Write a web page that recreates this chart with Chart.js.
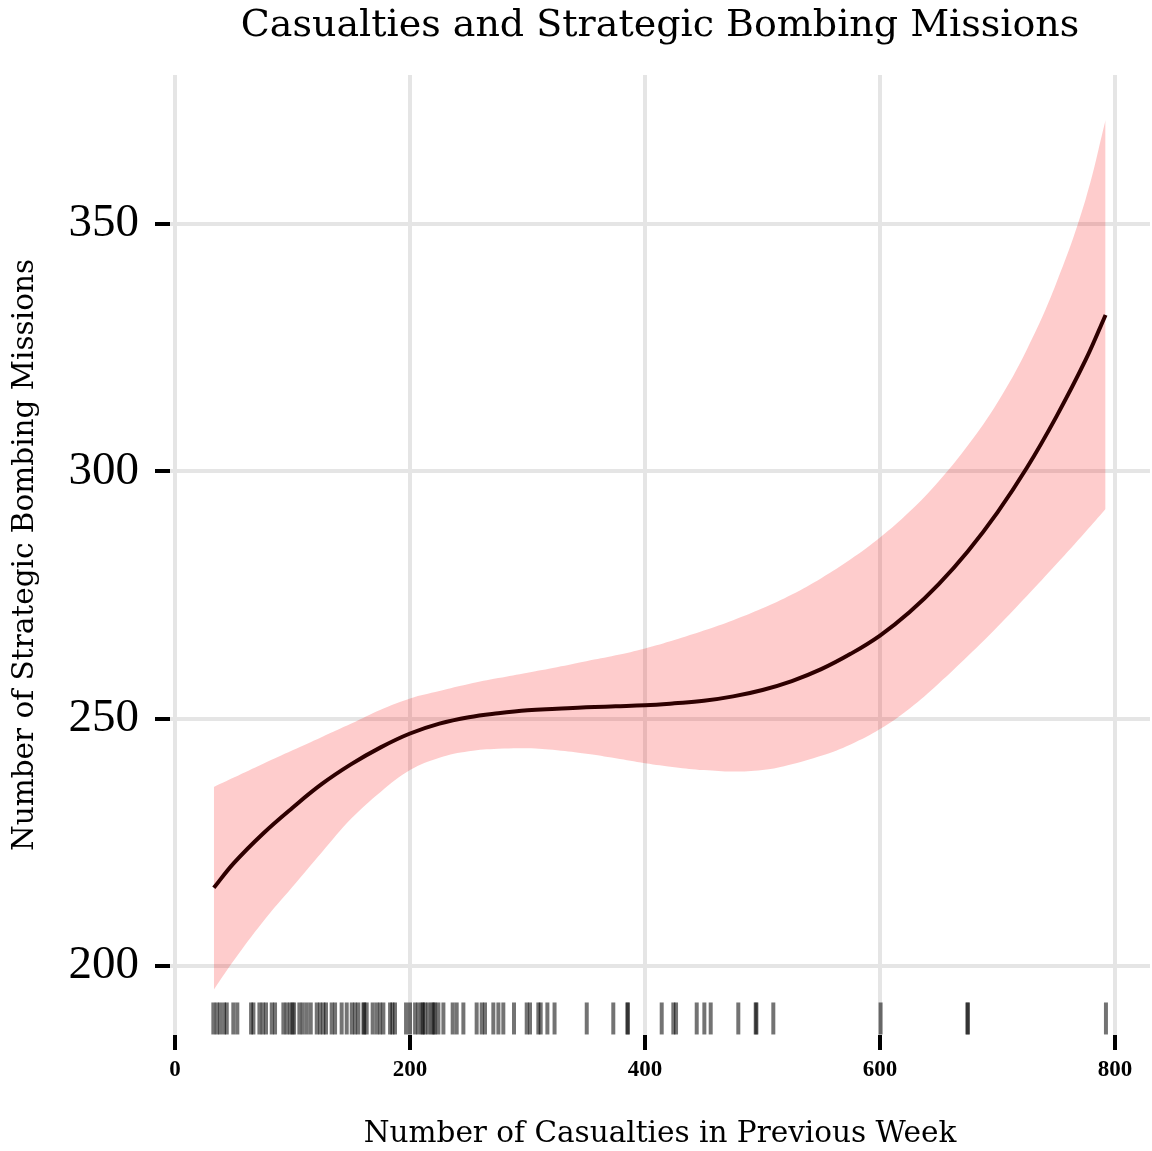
<!DOCTYPE html>
<html>
<head>
<meta charset="utf-8">
<script src="https://cdn.jsdelivr.net/npm/chart.js@4.4.1/dist/chart.umd.min.js"></script>
<style>
  html, body { margin: 0; padding: 0; background: #fff; overflow: hidden; }
  #wrap { width: 1152px; height: 1151px; position: relative; }
</style>
</head>
<body>
<div id="wrap"><canvas id="chart"></canvas></div>
<script>
const plotTitle = "Casualties and Strategic Bombing Missions";
const xTitle = "Number of Casualties in Previous Week";
const yTitle = "Number of Strategic Bombing Missions";

// fitted curve + confidence band
const casualties = [33, 50, 75, 100, 125, 150, 175, 200, 225, 250, 275, 300, 325, 350, 375, 400,
                    425, 450, 475, 500, 525, 550, 575, 600, 625, 650, 675, 700, 725, 750, 775, 792];
const fitted = [215.8, 220.8, 226.8, 232.0, 236.8, 240.8, 244.2, 247.0, 249.0, 250.3, 251.1, 251.7, 252.0, 252.3, 252.5, 252.7,
                253.1, 253.6, 254.5, 255.8, 257.6, 260.0, 263.1, 266.8, 271.5, 277.2, 283.9, 291.7, 300.7, 311.0, 322.5, 331.6];
const upperBand = [236.2, 238.1, 240.9, 243.6, 246.3, 249.0, 251.8, 254.1, 255.6, 257.0, 258.2, 259.3, 260.4, 261.6, 262.8, 264.2,
                   265.9, 267.8, 269.9, 272.3, 275.1, 278.4, 282.2, 286.6, 291.8, 298.0, 305.3, 313.9, 324.6, 338.0, 355.0, 371.0];
const lowerBand = [195.2, 201.1, 209.0, 216.0, 223.0, 229.8, 235.2, 239.6, 242.1, 243.4, 243.9, 244.0, 243.6, 242.9, 242.0, 241.0,
                   240.2, 239.6, 239.3, 239.6, 240.8, 242.5, 244.8, 247.9, 252.0, 257.1, 262.7, 268.6, 274.8, 281.2, 287.8, 292.4];

// rug of observed casualty counts
const rugCasualties = [
  32.6, 35.5, 38.3, 41.7, 44.0, 49.6, 53.0, 64.7, 66.7, 71.8, 74.6, 77.4, 82.3, 85.1,
  92.2, 95.0, 97.9, 100.0, 101.3, 105.8, 108.7, 112.1, 115.5, 120.6, 123.4, 126.2, 128.5,
  133.3, 136.2, 141.8, 146.1, 150.4, 153.2, 156.0, 160.3, 161.0, 163.1, 168.2, 171.6,
  174.5, 177.3, 183.0, 185.0, 187.2, 196.6, 200.0, 204.3, 207.1, 210.0, 211.0, 212.8,
  215.6, 218.4, 220.0, 221.3, 224.1, 228.4, 236.3, 239.7, 245.4, 256.7, 261.0, 263.8,
  270.9, 275.2, 279.4, 288.5, 299.3, 302.1, 309.2, 311.2, 316.9, 323.0, 350.4, 373.0,
  384.9, 385.5, 414.2, 424.1, 426.4, 444.0, 450.5, 455.9, 479.4, 494.2, 494.8, 509.2,
  600.5, 674.3, 674.9, 792.3
];
const rugLevel = 189.4;

const xTicks = [0, 200, 400, 600, 800];
const yTicks = [200, 250, 300, 350];

const pts = (xs, ys) => xs.map((x, i) => ({ x: x, y: ys[i] }));

const titlePlugin = {
  id: "plotTitle",
  afterDraw(chart) {
    const { ctx, chartArea } = chart;
    ctx.save();
    ctx.font = '38px "DejaVu Serif"';
    ctx.fillStyle = "#000";
    ctx.textAlign = "center";
    ctx.textBaseline = "alphabetic";
    ctx.fillText(plotTitle, (chartArea.left + chartArea.right) / 2, 36);
    ctx.restore();
  }
};

const gridOpts = {
  color: "#e5e5e5",
  lineWidth: 4,
  tickColor: "#000",
  tickLength: 15,
  tickWidth: 4
};

new Chart(document.getElementById("chart"), {
  type: "line",
  data: {
    datasets: [
      {
        label: "lower",
        data: pts(casualties, lowerBand),
        borderWidth: 0,
        pointRadius: 0,
        fill: false,
        tension: 0.4,
        order: 3
      },
      {
        label: "upper",
        data: pts(casualties, upperBand),
        borderWidth: 0,
        pointRadius: 0,
        fill: 0,
        backgroundColor: "rgba(250, 0, 0, 0.2)",
        tension: 0.4,
        order: 2
      },
      {
        label: "fit",
        data: pts(casualties, fitted),
        borderColor: "#2e0000",
        borderWidth: 4,
        pointRadius: 0,
        fill: false,
        tension: 0.4,
        order: 0
      },
      {
        label: "rug",
        data: rugCasualties.map(x => ({ x: x, y: rugLevel })),
        showLine: false,
        pointStyle: "line",
        rotation: 90,
        pointRadius: 16,
        pointBorderWidth: 4,
        pointBorderColor: "rgba(0, 0, 0, 0.55)",
        borderColor: "rgba(0, 0, 0, 0.55)",
        order: 1
      }
    ]
  },
  options: {
    responsive: true,
    maintainAspectRatio: false,
    animation: false,
    layout: { autoPadding: false, padding: { top: 75, right: 2, left: 0, bottom: 0 } },
    plugins: {
      legend: { display: false },
      tooltip: { enabled: false }
    },
    scales: {
      x: {
        type: "linear",
        min: -4.3,
        max: 829.8,
        afterBuildTicks: s => { s.ticks = xTicks.map(v => ({ value: v })); },
        afterFit: s => { s.height = 116; s.paddingLeft = 0; s.paddingRight = 0; },
        grid: gridOpts,
        border: { display: false },
        ticks: {
          color: "#000",
          padding: 6,
          font: { family: "Liberation Serif", size: 23, weight: "bold" }
        },
        title: {
          display: true,
          text: xTitle,
          color: "#000",
          font: { family: "DejaVu Serif", size: 29.5 },
          padding: { top: 0, bottom: -1 }
        }
      },
      y: {
        min: 186.06,
        max: 380.1,
        afterBuildTicks: s => { s.ticks = yTicks.map(v => ({ value: v })); },
        afterFit: s => { s.width = 170; s.paddingTop = 0; s.paddingBottom = 0; },
        grid: gridOpts,
        border: { display: false },
        ticks: {
          color: "#000",
          padding: 16,
          font: { family: "Liberation Serif", size: 47 }
        },
        title: {
          display: true,
          text: yTitle,
          color: "#000",
          font: { family: "DejaVu Serif", size: 29.5 },
          padding: { top: 8, bottom: 0 }
        }
      }
    }
  },
  plugins: [titlePlugin]
});
</script>
</body>
</html>
